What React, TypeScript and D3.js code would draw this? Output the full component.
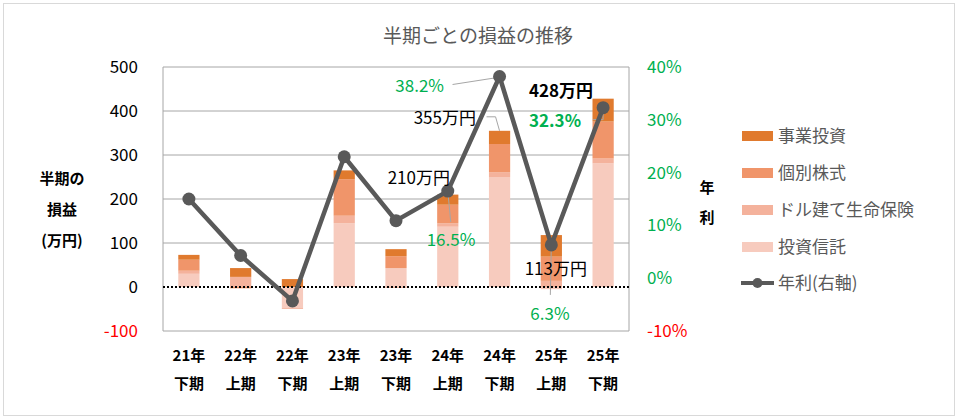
import * as d3 from 'd3'

// 半期ごとの損益 (万円) – stacked from bottom to top
const years = ['21年', '22年', '22年', '23年', '23年', '24年', '24年', '25年', '25年']
const halves = ['下期', '上期', '下期', '上期', '下期', '上期', '下期', '上期', '下期']
const seriesNames = ['投資信託', 'ドル建て生命保険', '個別株式', '事業投資']
const trust = [30, 0, -48, 145, 43, 137, 250, -5, 281]
const dollarIns = [7, 23, -2, 17, -2, 8, 11, 14, 11]
const stocks = [25, -3, 0, 83, 27, 42, 64, 55, 84]
const business = [11, 20, 18, 20, 16, 23, 30, 49, 52]
const rate = [15.0, 4.3, -4.3, 23.0, 10.9, 16.5, 38.2, 6.3, 32.3]
const leftTicks = [-100, 0, 100, 200, 300, 400, 500]
const rightTicks = [-10, 0, 10, 20, 30, 40]
const colors = ['#F7CBBE', '#F4B29C', '#F0956A', '#E07A2E']

const W = 958
const H = 420
const plot = { left: 163, right: 629, top: 67, bottom: 331 }
const FONT = '"Noto Sans CJK JP", "Noto Sans", sans-serif'
const GREEN = '#00B050'

export default function App() {
  const idx = d3.range(years.length)
  const x = d3.scaleBand<number>().domain(idx).range([plot.left, plot.right])
  const cx = (i: number) => (x(i) ?? 0) + x.bandwidth() / 2
  const barW = x.bandwidth() * 0.41
  const y = d3.scaleLinear().domain([-100, 500]).range([plot.bottom, plot.top])
  const yR = d3.scaleLinear().domain([-10, 40]).range([plot.bottom, plot.top])

  const rows = idx.map(i => ({ i, s0: trust[i], s1: dollarIns[i], s2: stocks[i], s3: business[i] }))
  const stack = d3.stack<any>().keys(['s0', 's1', 's2', 's3']).offset(d3.stackOffsetDiverging)
  const layers = stack(rows)

  const line = d3.line<number>().x((_, i) => cx(i)).y(d => yR(d))

  const total = (i: number) => trust[i] + dollarIns[i] + stocks[i] + business[i]
  const px = (i: number) => cx(i)
  const py = (i: number) => yR(rate[i])

  return (
    <svg width={W} height={H} style={{ position: 'absolute', left: 0, top: 0, fontFamily: FONT }}>
      <rect x={0} y={0} width={W} height={H} fill="#fff" />
      <rect x={3.5} y={3.5} width={W - 7} height={H - 8} fill="none" stroke="#D9D9D9" />
      <text x={478} y={43} textAnchor="middle" fontSize={19} fill="#595959">半期ごとの損益の推移</text>

      {/* grid */}
      {leftTicks.map(t => (
        t === 0 ? null :
          <line key={t} x1={plot.left} x2={plot.right} y1={y(t)} y2={y(t)} stroke="#A6A6A6" strokeWidth={1} />
      ))}
      <line x1={plot.left} x2={plot.left} y1={plot.top} y2={plot.bottom} stroke="#A6A6A6" />
      <line x1={plot.right} x2={plot.right} y1={plot.top} y2={plot.bottom} stroke="#A6A6A6" />

      {/* bars */}
      {layers.map((layer, k) => (
        <g key={k} fill={colors[k]}>
          {layer.map((d, i) => (
            <rect key={i} x={cx(i) - barW / 2} width={barW}
              y={y(Math.max(d[0], d[1]))} height={Math.abs(y(d[0]) - y(d[1]))} />
          ))}
        </g>
      ))}
      <line x1={plot.left} x2={plot.right} y1={y(0)} y2={y(0)} stroke="#000" strokeWidth={2} strokeDasharray="2,2" />

      {/* leader lines */}
      <g stroke="#A6A6A6" strokeWidth={1} fill="none">
        <polyline points={`${px(6) - 47},${py(6) + 8} ${px(6) - 2},${py(6) + 1}`} />
        <polyline points={`${px(6) - 13},${y(total(6)) - 14} ${px(6) - 4},${y(total(6)) - 14} ${px(6)},${y(total(6))}`} />
        <polyline points={`${px(5)},${py(5)} ${px(5) + 3},${py(5) + 31}`} />
        <polyline points={`${px(7)},${py(7)} ${px(7) - 1},${py(7) + 50}`} />
        <polyline points={`${px(8) - 10},${py(8) + 12} ${px(8)},${py(8) + 12} ${px(8)},${py(8) + 6}`} />
      </g>

      {/* rate line */}
      <path d={line(rate) ?? ''} fill="none" stroke="#595959" strokeWidth={4.5} strokeLinejoin="round" />
      {rate.map((r, i) => (
        <circle key={i} cx={cx(i)} cy={yR(r)} r={6.5} fill="#595959" />
      ))}

      {/* data labels */}
      <g fontSize={17}>
        <text x={444} y={92} textAnchor="end" fill={GREEN}>{rate[6].toFixed(1)}%</text>
        <text x={476} y={124} textAnchor="end" fill="#000">{total(6)}万円</text>
        <text x={450} y={184} textAnchor="end" fill="#000">{total(5)}万円</text>
        <text x={451} y={246} textAnchor="middle" fill={GREEN}>{rate[5].toFixed(1)}%</text>
        <text x={587} y={275} textAnchor="end" fill="#000">{total(7)}万円</text>
        <text x={550} y={320} textAnchor="middle" fill={GREEN}>{rate[7].toFixed(1)}%</text>
        <text x={529} y={97} fontWeight="bold" fill="#000">{total(8)}万円</text>
        <text x={529} y={127} fontWeight="bold" fill={GREEN}>{rate[8].toFixed(1)}%</text>
      </g>

      {/* left axis */}
      <g fontSize={17} textAnchor="end">
        {leftTicks.map(t => (
          <text key={t} x={138} y={y(t) + 6} fill={t < 0 ? '#FF0000' : '#000'}>{t}</text>
        ))}
      </g>
      <g fontSize={15} fontWeight="bold" textAnchor="middle" fill="#000">
        <text x={62} y={184}>半期の</text>
        <text x={62} y={215}>損益</text>
        <text x={62} y={246}>(万円)</text>
      </g>

      {/* right axis */}
      <g fontSize={17}>
        {rightTicks.map(t => (
          <text key={t} x={647} y={yR(t) + 6} fill={t < 0 ? '#FF0000' : GREEN}>{t}%</text>
        ))}
      </g>
      <g fontSize={15} fontWeight="bold" textAnchor="middle" fill="#000">
        <text x={707} y={193}>年</text>
        <text x={707} y={223}>利</text>
      </g>

      {/* x axis */}
      <g fontSize={15} fontWeight="bold" textAnchor="middle" fill="#000">
        {idx.map(i => (
          <g key={i}>
            <text x={cx(i)} y={361}>{years[i]}</text>
            <text x={cx(i)} y={389}>{halves[i]}</text>
          </g>
        ))}
      </g>

      {/* legend */}
      <g fontSize={17} fill="#595959">
        {seriesNames.slice().reverse().map((name, j) => {
          const ly = 136 + j * 37
          return (
            <g key={name}>
              <rect x={742} y={ly - 5} width={31} height={10} fill={colors[3 - j]} />
              <text x={778} y={ly + 6}>{name}</text>
            </g>
          )
        })}
        <line x1={741} x2={774} y1={283} y2={283} stroke="#595959" strokeWidth={4} />
        <circle cx={757.5} cy={283} r={5} fill="#595959" />
        <text x={778} y={289}>年利(右軸)</text>
      </g>
    </svg>
  )
}
